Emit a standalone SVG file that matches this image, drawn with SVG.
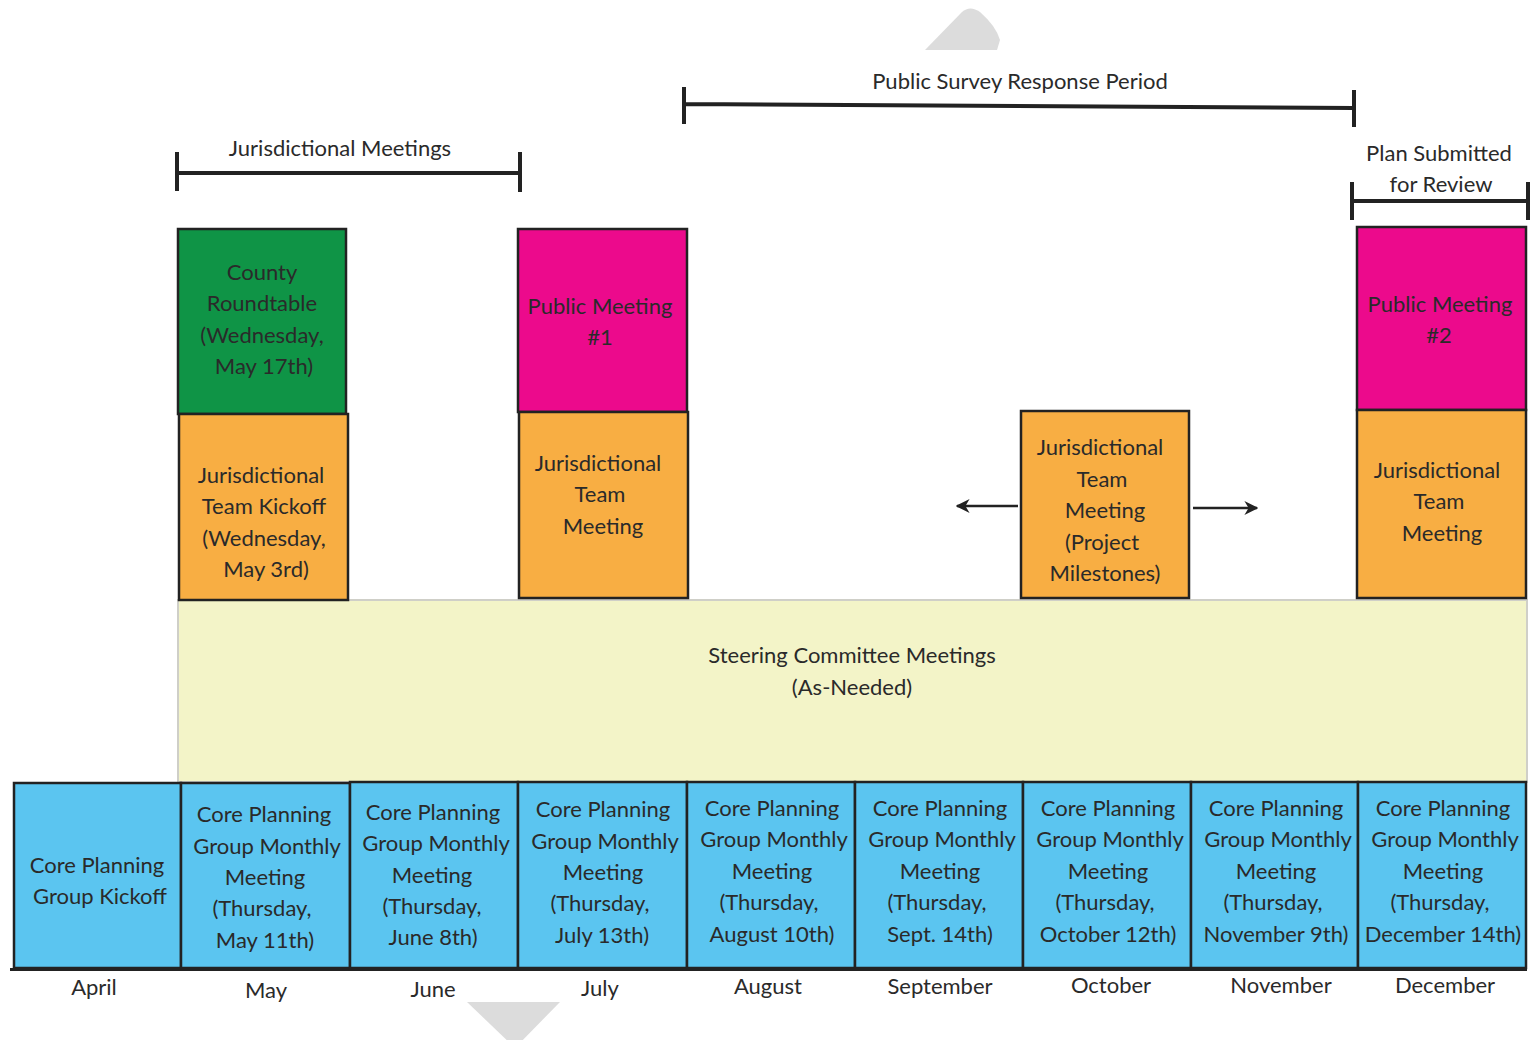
<svg xmlns="http://www.w3.org/2000/svg" width="1531" height="1040" viewBox="0 0 1531 1040">
<style>
text{font-family:Lato,"Open Sans","Liberation Sans",sans-serif;font-size:22px;fill:#2a2a2a;text-anchor:middle;dominant-baseline:central}
.bx{stroke:#222;stroke-width:2.5}
.g{fill:#0f9446}.o{fill:#f8ae43}.p{fill:#ec0a8c}.b{fill:#5bc5f0}
.br{stroke:#222;stroke-width:4;fill:none}
.ar{stroke:#222;stroke-width:2.5;fill:none}
</style>
<defs>
<marker id="ah" viewBox="0 0 10 10" refX="9" refY="5" markerWidth="14" markerHeight="14" orient="auto" markerUnits="userSpaceOnUse">
<path d="M0,0 L10,5 L0,10 L3,5 Z" fill="#222"/>
</marker>
</defs>
<rect width="1531" height="1040" fill="#fff"/>
<path d="M925,50 L962,12 Q970,5 980,12 Q996,26 1000,40 L997,50 Z" fill="#dcdcdc"/>
<path d="M467,1002 L560,1002 L515,1048 Z" fill="#dcdcdc"/>

<g id="brackets">
<path class="br" d="M177,173 L520,173 M177,152 V191 M520,152 V192"/>
<path class="br" d="M684,104 L1354,108 M684,87 V124 M1354,90 V127"/>
<path class="br" d="M1352,201 L1528,201 M1352,182 V220 M1528,182 V220"/>
<text x="340" y="147">Jurisdictional Meetings</text>
<text x="1020" y="80">Public Survey Response Period</text>
<text x="1439" y="152">Plan Submitted</text>
<text x="1441" y="183">for Review</text>
</g>

<g id="steering">
<rect x="178" y="600" width="1349" height="182" fill="#f3f4c8" stroke="#cfcfc8" stroke-width="2"/>
<text x="852" y="654">Steering Committee Meetings</text>
<text x="852" y="686">(As-Needed)</text>
</g>

<g id="county-roundtable">
<rect class="bx g" x="178" y="229" width="168" height="185"/>
<text x="262" y="271">County</text><text x="262" y="302">Roundtable</text><text x="262" y="334">(Wednesday,</text><text x="264" y="365">May 17th)</text>
</g>
<g id="jt-kickoff">
<rect class="bx o" x="179" y="414" width="169" height="186"/>
<text x="261" y="474">Jurisdictional</text><text x="264" y="505">Team Kickoff</text><text x="264" y="537">(Wednesday,</text><text x="266" y="568">May 3rd)</text>
</g>
<g id="public-meeting-1">
<rect class="bx p" x="518" y="229" width="169" height="183"/>
<text x="600" y="305">Public Meeting</text><text x="600" y="336">#1</text>
</g>
<g id="jt-meeting-july">
<rect class="bx o" x="519" y="412" width="169" height="186"/>
<text x="598" y="462">Jurisdictional</text><text x="600" y="493">Team</text><text x="603" y="525">Meeting</text>
</g>
<g id="jt-meeting-milestones">
<rect class="bx o" x="1021" y="411" width="168" height="187"/>
<text x="1100" y="446">Jurisdictional</text><text x="1102" y="478">Team</text><text x="1105" y="509">Meeting</text><text x="1102" y="541">(Project</text><text x="1105" y="572">Milestones)</text>
</g>
<g id="public-meeting-2">
<rect class="bx p" x="1357" y="227" width="169" height="183"/>
<text x="1440" y="303">Public Meeting</text><text x="1439" y="334">#2</text>
</g>
<g id="jt-meeting-dec">
<rect class="bx o" x="1357" y="410" width="169" height="188"/>
<text x="1437" y="469">Jurisdictional</text><text x="1439" y="500">Team</text><text x="1442" y="532">Meeting</text>
</g>

<g id="connectors">
<line class="ar" x1="1018" y1="506" x2="957" y2="506" marker-end="url(#ah)"/>
<line class="ar" x1="1193" y1="508" x2="1257" y2="508" marker-end="url(#ah)"/>
</g>

<g id="cpg-april"><rect class="bx b" x="14" y="783" width="167" height="185"/>
<text x="97" y="864">Core Planning</text><text x="100" y="895">Group Kickoff</text></g>
<g id="cpg-may"><rect class="bx b" x="181" y="783" width="169" height="185"/>
<text x="264" y="813">Core Planning</text><text x="267" y="845">Group Monthly</text><text x="265" y="876">Meeting</text><text x="262" y="907">(Thursday,</text><text x="265" y="939">May 11th)</text></g>
<g id="cpg-june"><rect class="bx b" x="350" y="782" width="168" height="186"/>
<text x="433" y="811">Core Planning</text><text x="436" y="842">Group Monthly</text><text x="432" y="874">Meeting</text><text x="432" y="905">(Thursday,</text><text x="433" y="936">June 8th)</text></g>
<g id="cpg-july"><rect class="bx b" x="518" y="782" width="169" height="186"/>
<text x="603" y="808">Core Planning</text><text x="605" y="840">Group Monthly</text><text x="603" y="871">Meeting</text><text x="600" y="902">(Thursday,</text><text x="602" y="934">July 13th)</text></g>
<g id="cpg-august"><rect class="bx b" x="687" y="782" width="168" height="186"/>
<text x="772" y="807">Core Planning</text><text x="774" y="838">Group Monthly</text><text x="772" y="870">Meeting</text><text x="769" y="901">(Thursday,</text><text x="772" y="933">August 10th)</text></g>
<g id="cpg-september"><rect class="bx b" x="855" y="782" width="168" height="186"/>
<text x="940" y="807">Core Planning</text><text x="942" y="838">Group Monthly</text><text x="940" y="870">Meeting</text><text x="937" y="901">(Thursday,</text><text x="940" y="933">Sept. 14th)</text></g>
<g id="cpg-october"><rect class="bx b" x="1023" y="782" width="168" height="186"/>
<text x="1108" y="807">Core Planning</text><text x="1110" y="838">Group Monthly</text><text x="1108" y="870">Meeting</text><text x="1105" y="901">(Thursday,</text><text x="1108" y="933">October 12th)</text></g>
<g id="cpg-november"><rect class="bx b" x="1191" y="782" width="167" height="186"/>
<text x="1276" y="807">Core Planning</text><text x="1278" y="838">Group Monthly</text><text x="1276" y="870">Meeting</text><text x="1273" y="901">(Thursday,</text><text x="1276" y="933">November 9th)</text></g>
<g id="cpg-december"><rect class="bx b" x="1358" y="782" width="168" height="186"/>
<text x="1443" y="807">Core Planning</text><text x="1445" y="838">Group Monthly</text><text x="1443" y="870">Meeting</text><text x="1440" y="901">(Thursday,</text><text x="1443" y="933">December 14th)</text></g>

<line x1="10" y1="969.5" x2="1527" y2="969.5" stroke="#222" stroke-width="3"/>
<g id="months">
<text x="94" y="986">April</text><text x="266" y="989">May</text><text x="433" y="988">June</text><text x="600" y="987">July</text><text x="768" y="985">August</text><text x="940" y="985">September</text><text x="1111" y="984">October</text><text x="1281" y="984">November</text><text x="1445" y="984">December</text>
</g>
</svg>
